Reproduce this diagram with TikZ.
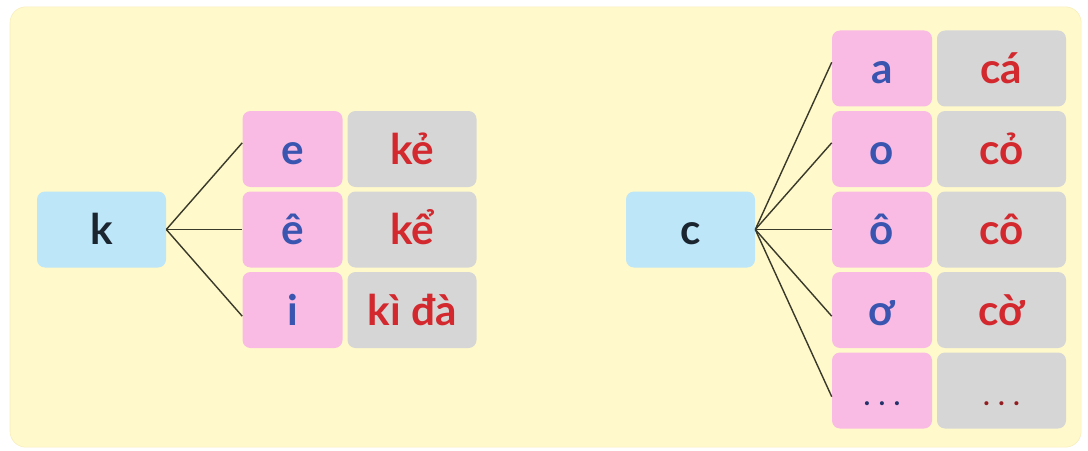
\documentclass[tikz,border=0pt]{standalone}
\usepackage{fontspec}
\setmainfont{Lato}
\definecolor{bgfill}{HTML}{FFF9CB}
\definecolor{bgline}{HTML}{F7EDBC}
\definecolor{consfill}{HTML}{BDE6F9}
\definecolor{vowfill}{HTML}{F9BBE3}
\definecolor{wordfill}{HTML}{D6D6D6}
\definecolor{constext}{HTML}{1B2530}
\definecolor{vowtext}{HTML}{3A55B0}
\definecolor{wordtext}{HTML}{D2282E}
\definecolor{linkcol}{HTML}{3A3A2A}
\tikzset{
  cell/.style={rounded corners=0.2cm,minimum height=1.9cm,inner sep=0pt,
    text height=0.9cm,text depth=0.15cm,font=\fontsize{30}{36}\selectfont\bfseries},
  conscell/.style={cell,fill=consfill,text=constext,minimum width=3.225cm},
  vowcell/.style={cell,fill=vowfill,text=vowtext,minimum width=2.5cm},
  wordcell/.style={cell,fill=wordfill,text=wordtext,minimum width=3.225cm},
  dotcell/.style={font=\fontsize{19}{22}\selectfont\bfseries},
  link/.style={draw=linkcol,line width=1pt}
}
\begin{document}
\begin{tikzpicture}[x=1cm,y=1cm]
\useasboundingbox (0,0) rectangle (27.2,11.25);
\draw[fill=bgfill,draw=bgline,rounded corners=0.4cm] (0.25,0.07) rectangle (27.03,11.08);
% k
\node[conscell] (k) at (2.5375,5.5125) {k};
\node[vowcell] (ve) at (7.3125,7.525) {e};
\node[vowcell] (vee) at (7.3125,5.5125) {ê};
\node[vowcell] (vi) at (7.3125,3.5) {i};
\node[wordcell] (we) at (10.3,7.525) {kẻ};
\node[wordcell] (wee) at (10.3,5.5125) {kể};
\node[wordcell] (wi) at (10.3,3.5) {kì đà};
\draw[link] (k.east) -- (ve.173);
\draw[link] (k.east) -- (vee.west);
\draw[link] (k.east) -- (vi.187);
% c
\node[conscell] (c) at (17.2625,5.5125) {c};
\node[vowcell] (va) at (22.05,9.5375) {a};
\node[vowcell] (vo) at (22.05,7.525) {o};
\node[vowcell] (voo) at (22.05,5.5125) {ô};
\node[vowcell] (vow) at (22.05,3.5) {ơ};
\node[vowcell] (vdots) at (22.05,1.4875) {};
\node[wordcell] (wa) at (25.0375,9.5375) {cá};
\node[wordcell] (wo) at (25.0375,7.525) {cỏ};
\node[wordcell] (woo) at (25.0375,5.5125) {cô};
\node[wordcell] (wow) at (25.0375,3.5) {cờ};
\node[wordcell] (wdots) at (25.0375,1.4875) {};
\node[dotcell,text=vowtext!60!black] at ([yshift=-0.32cm]vdots.center) {. . .};
\node[dotcell,text=wordtext!70!black] at ([yshift=-0.32cm]wdots.center) {. . .};
\draw[link] (c.east) -- (va.173);
\draw[link] (c.east) -- (vo.173);
\draw[link] (c.east) -- (voo.west);
\draw[link] (c.east) -- (vow.187);
\draw[link] (c.east) -- (vdots.187);
\end{tikzpicture}
\end{document}
